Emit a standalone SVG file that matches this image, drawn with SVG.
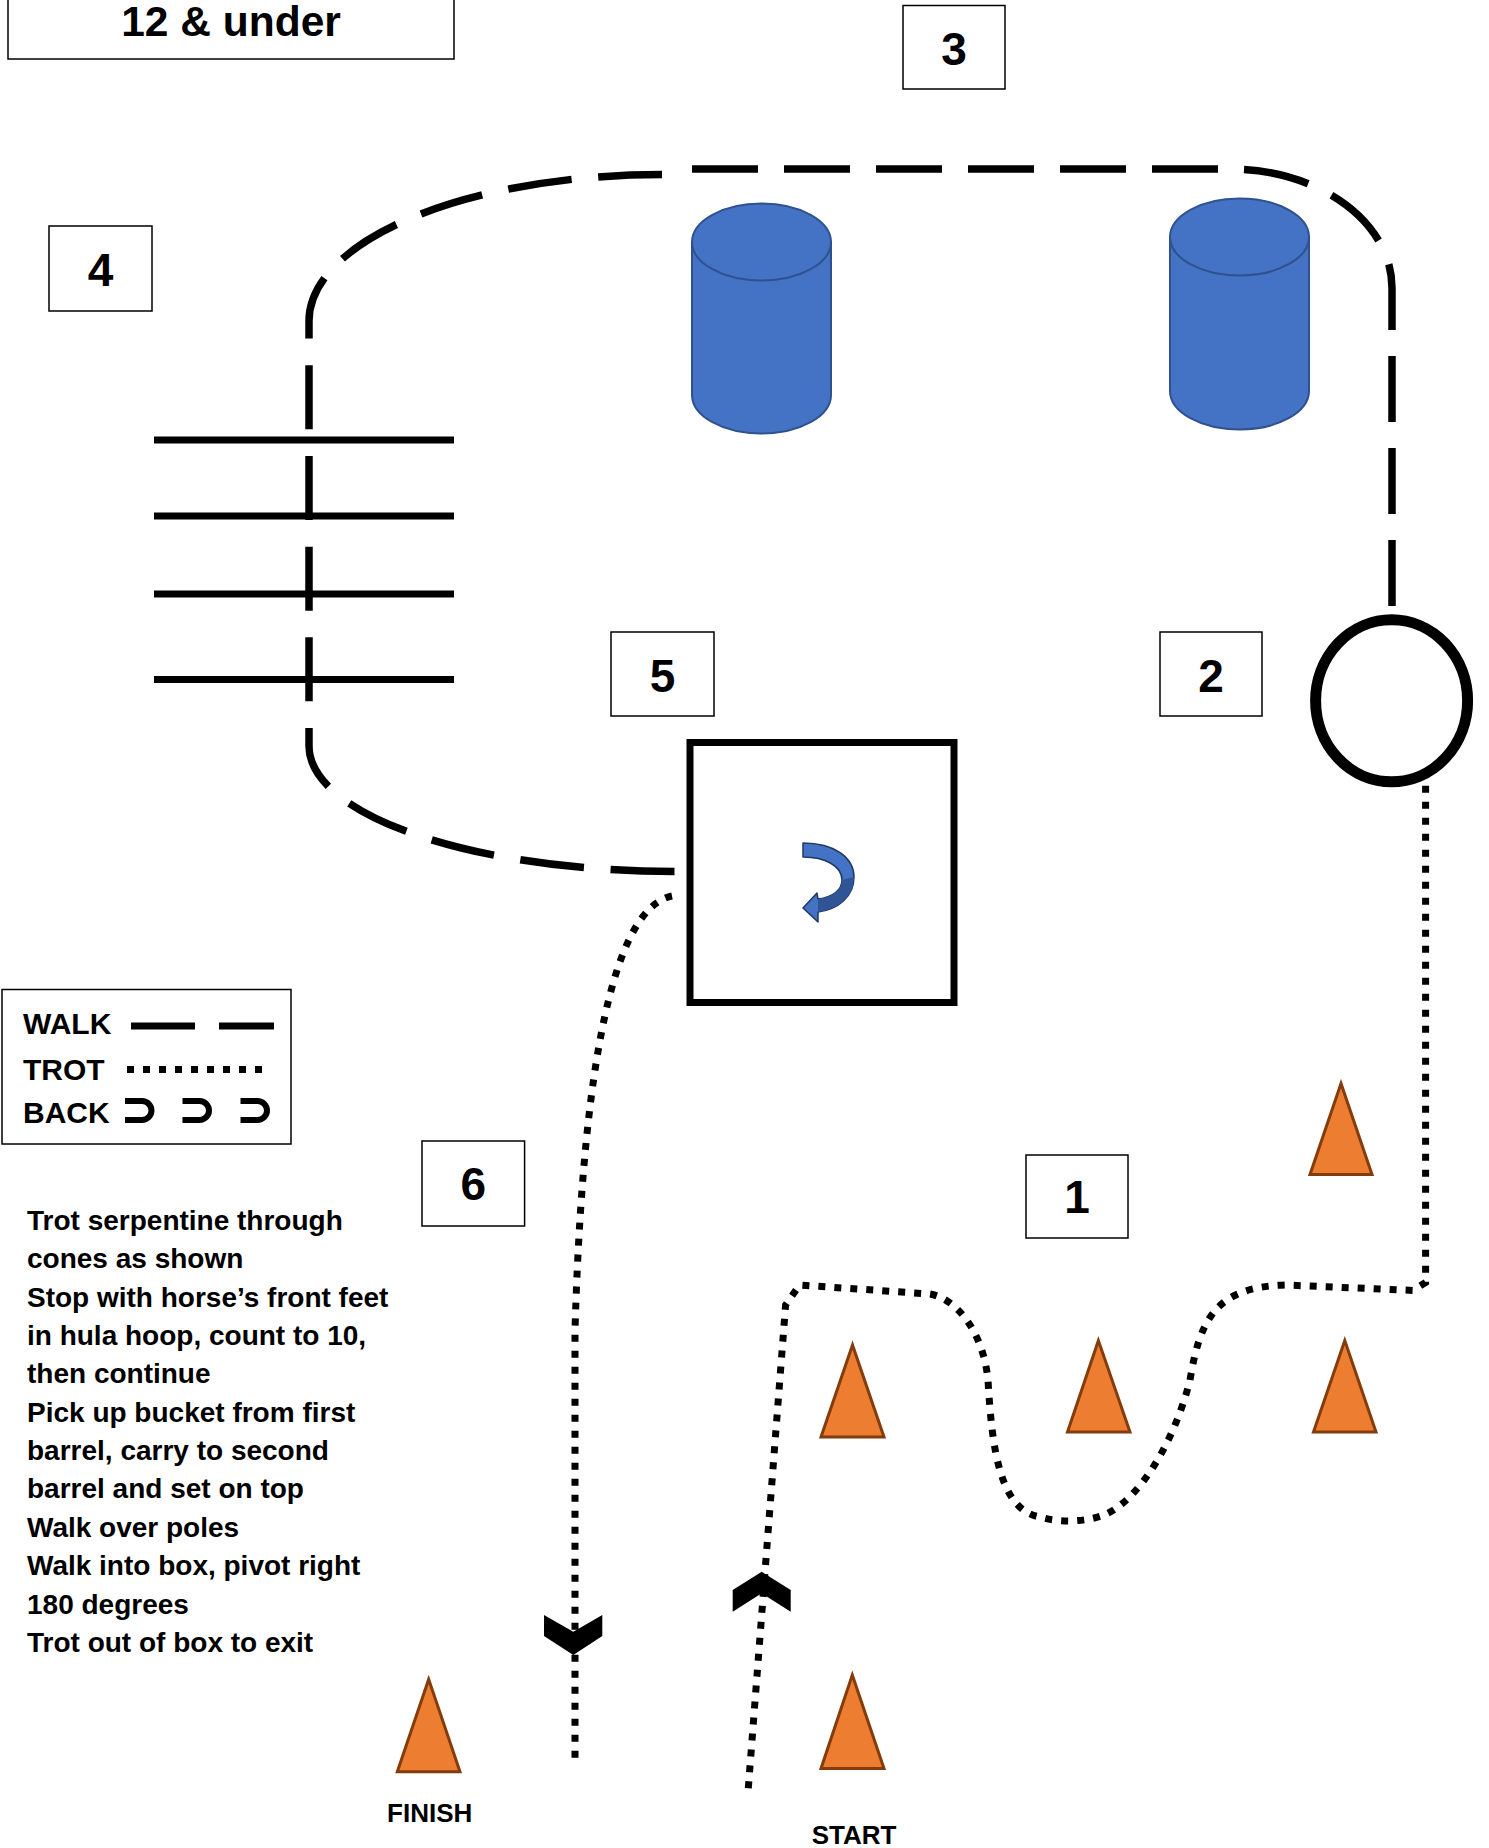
<svg xmlns="http://www.w3.org/2000/svg" width="1489" height="1848" viewBox="0 0 1489 1848">
<style>
  .box { fill: #fff; stroke: #000; stroke-width: 1.5; }
  .num { font-family: "Liberation Sans", Arial, sans-serif; font-weight: bold; font-size: 46px; text-anchor: middle; fill: #000; }
  .title { font-family: "Liberation Sans", Arial, sans-serif; font-weight: bold; font-size: 42.5px; text-anchor: middle; fill: #000; }
  .leg { font-family: "Liberation Sans", Arial, sans-serif; font-weight: bold; font-size: 30px; fill: #000; }
  .instr { font-family: "Liberation Sans", Arial, sans-serif; font-weight: bold; font-size: 28px; fill: #000; }
  .lbl { font-family: "Liberation Sans", Arial, sans-serif; font-weight: bold; font-size: 26px; text-anchor: middle; fill: #000; }
  .walk { fill: none; stroke: #000; stroke-width: 7.5; stroke-dasharray: 64 25; }
  .trot { fill: none; stroke: #000; stroke-width: 7; stroke-dasharray: 7 9; }
  .pole { stroke: #000; stroke-width: 7; }
  .cone { fill: #ED7D31; stroke: #843C0C; stroke-width: 3; stroke-linejoin: miter; }
  .barrel { fill: #4472C4; stroke: #2F528F; stroke-width: 2; }
  .chev { fill: #000; }
  .back { fill: none; stroke: #000; stroke-width: 6; }
</style>
<rect width="1489" height="1848" fill="#fff"/>

<g id="title">
  <rect class="box" x="8" y="-3" width="446" height="62"/>
  <text class="title" x="231" y="36">12 &amp; under</text>
</g>

<g id="poles">
  <line class="pole" x1="154" y1="440" x2="454" y2="440"/>
  <line class="pole" x1="154" y1="516" x2="454" y2="516"/>
  <line class="pole" x1="154" y1="594" x2="454" y2="594"/>
  <line class="pole" x1="154" y1="679.5" x2="454" y2="679.5"/>
</g>

<g id="barrel1">
  <path class="barrel" d="M692 242 V395 A69.5 38.5 0 0 0 831 395 V242 Z"/>
  <ellipse class="barrel" cx="761.5" cy="242" rx="69.5" ry="38.5"/>
</g>
<g id="barrel2">
  <path class="barrel" d="M1170 237 V391 A69.5 38.5 0 0 0 1309 391 V237 Z"/>
  <ellipse class="barrel" cx="1239.5" cy="237" rx="69.5" ry="38.5"/>
</g>

<g id="hoop">
  <ellipse cx="1391.6" cy="700.8" rx="76" ry="81" fill="#fff" stroke="#000" stroke-width="11"/>
</g>

<g id="pivot-box">
  <rect x="690" y="742.5" width="264" height="260" fill="#fff" stroke="#000" stroke-width="7"/>
  <path d="M803 843 C835 843 854 858 854 877 C854 897 838 909 818 912 L818 922 L803 908 L817 893 L818 899 C833 897 842 890 842 880 C842 866 825 857 803 857 Z" fill="#4472C4" stroke="#1F3864" stroke-width="1.5" stroke-linejoin="round"/>
  <path d="M842 880 C842 890 833 897 818 899 L818 912 C838 909 854 897 854 877 Z" fill="#2F5597" stroke="none"/>
</g>

<g id="cones">
  <polygon class="cone" points="1341,1083.5 1310,1174.6 1372,1174.6"/>
  <polygon class="cone" points="852.5,1345 821,1437 884,1437"/>
  <polygon class="cone" points="1098.4,1340.6 1067.5,1432 1130,1432"/>
  <polygon class="cone" points="1344.8,1340.6 1313.5,1432 1376,1432"/>
  <polygon class="cone" points="852.3,1675 821,1768.5 884,1768.5"/>
  <polygon class="cone" points="428.7,1679.3 397.3,1771.7 460,1771.7"/>
</g>

<g id="connectors">
  <path class="walk" style="stroke-dasharray: 66 26" d="M692 169 H1230 C1319.4 169 1392 222.3 1392 288 V607"/>
  <path class="walk" style="stroke-dasharray: 64 26.7" d="M674.5 871.5 A365.5 125.5 0 0 1 309 746 V321 A353 146.5 0 0 1 662 174.5"/>
  <path class="trot" d="M748.3 1788.3 L785.6 1305 L799.5 1285 L929.7 1294 C955 1298 983 1330 988 1380 C992 1450 1000 1510 1040 1517 C1060 1523 1085 1522 1104 1515 C1140 1500 1175 1440 1190 1380 C1200 1320 1215 1287 1285 1285 L1413 1290.4 L1425.6 1282.5 V784"/>
  <path class="trot" d="M672 896 C630 905 585 990 575 1330 V1765"/>
  <polygon class="chev" points="544,1615 573.3,1631.7 602.3,1615 602.3,1636 573.3,1655 544,1636"/>
  <polygon class="chev" points="732.7,1590 761.7,1571.7 790.7,1590 790.7,1611.7 761.7,1593.3 732.7,1611.7"/>
</g>

<g id="label-1"><rect class="box" x="1026" y="1155" width="102" height="83"/><text class="num" x="1077" y="1213">1</text></g>
<g id="label-2"><rect class="box" x="1160" y="632" width="102" height="84"/><text class="num" x="1211" y="692">2</text></g>
<g id="label-3"><rect class="box" x="903" y="5.5" width="102" height="83.5"/><text class="num" x="954" y="65">3</text></g>
<g id="label-4"><rect class="box" x="49" y="226" width="103" height="85"/><text class="num" x="100.5" y="286">4</text></g>
<g id="label-5"><rect class="box" x="611" y="632" width="103" height="84"/><text class="num" x="662.5" y="692">5</text></g>
<g id="label-6"><rect class="box" x="422" y="1141" width="102.6" height="85"/><text class="num" x="473.3" y="1200">6</text></g>

<g id="legend">
  <rect class="box" x="2" y="989.5" width="289" height="154.5"/>
  <text class="leg" x="23" y="1034">WALK</text>
  <text class="leg" x="23" y="1080">TROT</text>
  <text class="leg" x="23" y="1123">BACK</text>
  <line x1="131" y1="1026" x2="195" y2="1026" stroke="#000" stroke-width="7"/>
  <line x1="219" y1="1026" x2="274" y2="1026" stroke="#000" stroke-width="7"/>
  <line x1="127" y1="1069.5" x2="263" y2="1069.5" stroke="#000" stroke-width="7" stroke-dasharray="7 9"/>
  <path class="back" d="M125 1101 H142 A9.5 9.5 0 0 1 142 1120 H125"/>
  <path class="back" d="M182.5 1101 H199.5 A9.5 9.5 0 0 1 199.5 1120 H182.5"/>
  <path class="back" d="M240.5 1101 H257.5 A9.5 9.5 0 0 1 257.5 1120 H240.5"/>
</g>

<g id="instructions">
  <text class="instr" x="27" y="1230">Trot serpentine through</text>
  <text class="instr" x="27" y="1268">cones as shown</text>
  <text class="instr" x="27" y="1307">Stop with horse’s front feet</text>
  <text class="instr" x="27" y="1345">in hula hoop, count to 10,</text>
  <text class="instr" x="27" y="1383">then continue</text>
  <text class="instr" x="27" y="1422">Pick up bucket from first</text>
  <text class="instr" x="27" y="1460">barrel, carry to second</text>
  <text class="instr" x="27" y="1498">barrel and set on top</text>
  <text class="instr" x="27" y="1537">Walk over poles</text>
  <text class="instr" x="27" y="1575">Walk into box, pivot right</text>
  <text class="instr" x="27" y="1614">180 degrees</text>
  <text class="instr" x="27" y="1652">Trot out of box to exit</text>
</g>

<g id="finish"><text class="lbl" x="429.7" y="1821.5">FINISH</text></g>
<g id="start"><text class="lbl" x="854" y="1844">START</text></g>
</svg>
